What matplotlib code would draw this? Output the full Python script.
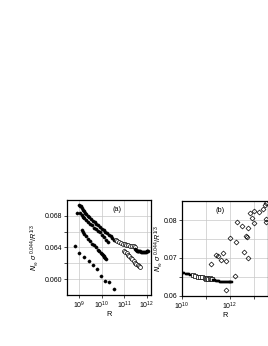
import numpy as np
import matplotlib
matplotlib.use("Agg")
import matplotlib.pyplot as plt
from matplotlib.ticker import FixedLocator, FixedFormatter, NullLocator

plt.rcParams['font.family'] = ['Liberation Sans', 'DejaVu Sans']
plt.rcParams['mathtext.fontset'] = 'custom'
plt.rcParams['mathtext.rm'] = 'Liberation Sans'
plt.rcParams['mathtext.it'] = 'Liberation Sans:italic'
plt.rcParams['mathtext.cal'] = 'DejaVu Sans:italic'

# ---------------- Panel (a) data (log10 R, value) ----------------
a_top_logR = [8.98, 9.02, 9.06, 9.10, 9.15, 9.20, 9.26, 9.32, 9.38, 9.45, 9.52, 9.60,
              9.68, 9.76, 9.84, 9.92, 10.00, 10.08, 10.16, 10.24, 10.32, 10.40, 10.48,
              10.53, 10.58]
a_top_val = [0.0694, 0.0693, 0.0692, 0.0690, 0.0688, 0.0686, 0.0684, 0.0682, 0.0680,
             0.0678, 0.0676, 0.0674, 0.0672, 0.0670, 0.0668, 0.0666, 0.0664, 0.0662,
             0.0660, 0.0658, 0.0656, 0.0654, 0.0652, 0.0650, 0.0649]

a_second_logR = [8.88, 9.05, 9.10, 9.16, 9.22, 9.30, 9.38, 9.46, 9.55, 9.64, 9.73, 9.82,
                 9.91, 10.00, 10.10, 10.20, 10.30]
a_second_val = [0.0683, 0.0684, 0.0681, 0.0679, 0.0677, 0.0675, 0.0672, 0.0670, 0.0668,
                0.0665, 0.0663, 0.0661, 0.0659, 0.0656, 0.0653, 0.0650, 0.0647]

a_third_logR = [9.10, 9.16, 9.22, 9.30, 9.38, 9.46, 9.55, 9.64, 9.73, 9.82, 9.90, 9.96,
                10.01, 10.05, 10.09, 10.12, 10.15, 10.18]
a_third_val = [0.0662, 0.0659, 0.0657, 0.0654, 0.0651, 0.0648, 0.0645, 0.0643, 0.0640,
               0.0637, 0.0635, 0.0633, 0.0632, 0.0631, 0.0629, 0.0628, 0.0627, 0.0626]

a_low_logR = [8.79, 9.00, 9.22, 9.42, 9.60, 9.79, 9.97, 10.16, 10.34, 10.54]
a_low_val = [0.0642, 0.0633, 0.0628, 0.0623, 0.0618, 0.0613, 0.0604, 0.0598, 0.0596, 0.0587]

a_tail_logR = [11.48, 11.52, 11.56, 11.60, 11.64, 11.68, 11.72, 11.76, 11.80, 11.84,
               11.88, 11.92, 11.96, 12.00, 12.04, 12.08]
a_tail_val = [0.0638, 0.0637, 0.0636, 0.0636, 0.0635, 0.0635, 0.0635, 0.0634, 0.0634,
              0.0634, 0.0634, 0.0634, 0.0634, 0.0635, 0.0635, 0.0635]

a_open_up_logR = [10.62, 10.70, 10.78, 10.86, 10.94, 11.02, 11.10, 11.18, 11.26, 11.34,
                  11.42, 11.50]
a_open_up_val = [0.0649, 0.0648, 0.0647, 0.0646, 0.0645, 0.0644, 0.0643, 0.0643, 0.0642,
                 0.0642, 0.0642, 0.0641]

a_open_low_logR = [11.00, 11.06, 11.12, 11.18, 11.24, 11.30, 11.36, 11.42, 11.48, 11.54,
                   11.60, 11.66, 11.70]
a_open_low_val = [0.0636, 0.0634, 0.0633, 0.0631, 0.0629, 0.0627, 0.0625, 0.0623, 0.0621,
                  0.0619, 0.0618, 0.0616, 0.0615]

# ---------------- Panel (b) data ----------------
b_fill1_logR = [10.00, 10.05, 10.10, 10.15, 10.20, 10.25, 10.30, 10.35, 10.40]
b_fill1_val = [0.0661, 0.0660, 0.0660, 0.0659, 0.0658, 0.0657, 0.0657, 0.0656, 0.0655]

b_open_sq_logR = [10.45, 10.55, 10.65, 10.75, 10.85, 10.95, 11.00, 11.05, 11.10, 11.15,
                  11.20, 11.25]
b_open_sq_val = [0.0654, 0.0652, 0.0651, 0.0650, 0.0649, 0.0648, 0.0646, 0.0648, 0.0645,
                 0.0647, 0.0645, 0.0646]

b_fill2_logR = [11.30, 11.34, 11.38, 11.42, 11.46, 11.50, 11.54, 11.58, 11.62, 11.66,
                11.70, 11.74, 11.78, 11.82, 11.86, 11.90, 11.94, 11.98, 12.02, 12.06, 12.10]
b_fill2_val = [0.0643, 0.0642, 0.0641, 0.0640, 0.0640, 0.0639, 0.0639, 0.0638, 0.0638,
               0.0638, 0.0637, 0.0637, 0.0637, 0.0637, 0.0637, 0.0637, 0.0637, 0.0637,
               0.0637, 0.0637, 0.0638]

b_diam_logR = [11.22, 11.42, 11.51, 11.61, 11.72, 11.83, 11.85, 12.22, 12.00, 12.24,
               12.28, 12.50, 12.76, 12.68, 12.70, 12.60, 12.73, 12.85, 13.02, 13.22,
               13.36, 13.45, 13.52, 12.92, 13.02, 13.52, 13.52]
b_diam_val = [0.0685, 0.0709, 0.0704, 0.0696, 0.0712, 0.0693, 0.0615, 0.0653, 0.0752,
              0.0742, 0.0796, 0.0785, 0.0780, 0.0757, 0.0755, 0.0717, 0.0701, 0.0819,
              0.0824, 0.0822, 0.0829, 0.0840, 0.0844, 0.0804, 0.0793, 0.0803, 0.0796]

# ticks
a_yticks = [0.060, 0.062, 0.064, 0.066, 0.068]
a_yticklabels = ['0.060', '', '0.064', '', '0.068']
a_xticks_exp = [9, 10, 11, 12]
a_xticklabels = [r'$10^{9}$', r'$10^{10}$', r'$10^{11}$', r'$10^{12}$']
b_yticks = [0.060, 0.065, 0.070, 0.075, 0.080]
b_yticklabels = ['0.06', '', '0.07', '', '0.08']
b_xticks_exp = [10, 11, 12, 13]
b_xticklabels = [r'$10^{10}$', '', r'$10^{12}$', '']

ylabel = r'$\mathcal{N}_\infty\ \sigma^{\ 0.044}/R^{1/3}$'

def R(lst):
    return 10.0 ** np.asarray(lst)

fig = plt.figure(figsize=(2.68, 3.46), dpi=100)
W, H = 268.0, 346.0
ax_a = fig.add_axes([67 / W, 1 - 295 / H, 84 / W, 95 / H])
ax_b = fig.add_axes([182 / W, 1 - 296 / H, 86.4 / W, 95 / H])

fs = 5.0
filled = dict(ls='none', marker='o', ms=2.3, mfc='black', mec='black', mew=0.3)
opencirc = dict(ls='none', marker='o', ms=2.8, mfc='white', mec='black', mew=0.5)

ax_a.plot(R(a_top_logR), a_top_val, **filled)
ax_a.plot(R(a_second_logR), a_second_val, **filled)
ax_a.plot(R(a_third_logR), a_third_val, **filled)
ax_a.plot(R(a_low_logR), a_low_val, **filled)
ax_a.plot(R(a_open_up_logR), a_open_up_val, **opencirc)
ax_a.plot(R(a_open_low_logR), a_open_low_val, **opencirc)
ax_a.plot(R(a_tail_logR), a_tail_val, **filled)

ax_b.plot(R(b_fill1_logR), b_fill1_val, ls='none', marker='s', ms=2.1,
          mfc='black', mec='black', mew=0.3)
ax_b.plot(R(b_open_sq_logR), b_open_sq_val, ls='none', marker='s', ms=2.5,
          mfc='white', mec='black', mew=0.5)
ax_b.plot(R(b_fill2_logR), b_fill2_val, ls='none', marker='s', ms=2.1,
          mfc='black', mec='black', mew=0.3)
ax_b.plot(R(b_diam_logR), b_diam_val, ls='none', marker='D', ms=2.5,
          mfc='none', mec='black', mew=0.5)

for ax, xl, yl, xt, xtl, yt, ytl, labx in [
        (ax_a, (10 ** 8.45, 10 ** 12.2), (0.058, 0.070), a_xticks_exp, a_xticklabels,
         a_yticks, a_yticklabels, (40 - 67) / 84.0),
        (ax_b, (10 ** 10, 10 ** 13.6), (0.060, 0.085), b_xticks_exp, b_xticklabels,
         b_yticks, b_yticklabels, (164 - 182) / 86.4)]:
    ax.set_xscale('log')
    ax.set_xlim(*xl)
    ax.set_ylim(*yl)
    ax.xaxis.set_major_locator(FixedLocator(R(xt)))
    ax.xaxis.set_major_formatter(FixedFormatter(xtl))
    ax.xaxis.set_minor_locator(NullLocator())
    ax.yaxis.set_major_locator(FixedLocator(yt))
    ax.yaxis.set_major_formatter(FixedFormatter(ytl))
    ax.grid(True, color='#c8c8c8', lw=0.5)
    ax.set_axisbelow(True)
    ax.tick_params(labelsize=fs, length=2, width=0.5, pad=1.2, direction='out')
    for s in ax.spines.values():
        s.set_linewidth(0.9)
    ax.set_xlabel('R', fontsize=fs + 0.3, labelpad=0.5)
    ax.set_ylabel(ylabel, fontsize=fs + 0.2)
    ax.yaxis.set_label_coords(labx, 0.5)

ax_a.text(0.6, 0.905, '(a)', transform=ax_a.transAxes, fontsize=fs + 0.3,
          ha='center', va='center')
ax_b.text(0.44, 0.9, '(b)', transform=ax_b.transAxes, fontsize=fs + 0.3,
          ha='center', va='center')

fig.savefig('out.png', dpi=100)
